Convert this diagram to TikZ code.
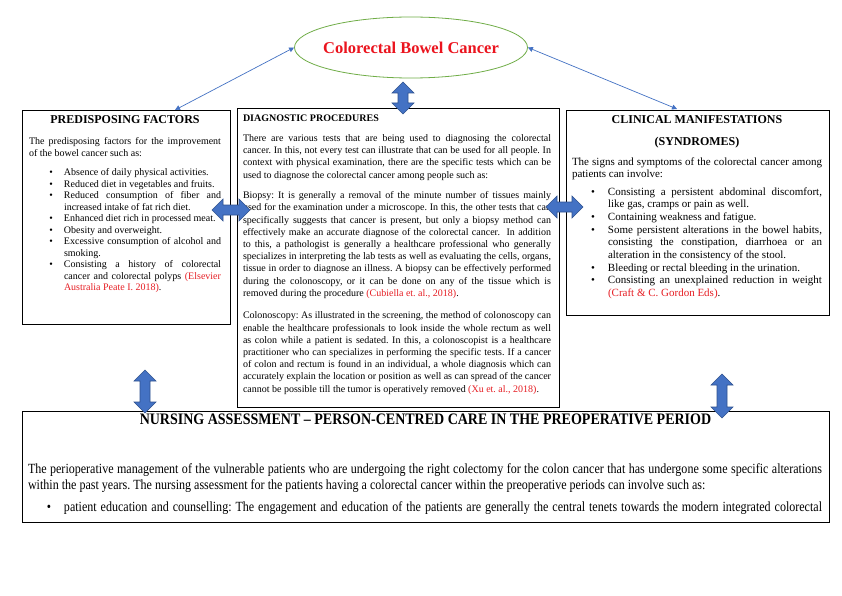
\documentclass[tikz,border=0pt]{standalone}
\usepackage{fontspec}
\setmainfont{Liberation Serif}
\newfontfamily\condfont[FakeStretch=0.86]{Liberation Serif}
\newfontfamily\condtitle[FakeStretch=0.875]{Liberation Serif}
\usetikzlibrary{shapes.geometric,arrows.meta}
\definecolor{citered}{RGB}{230,30,36}
\definecolor{titlered}{RGB}{235,20,30}
\definecolor{ellgreen}{RGB}{112,173,71}
\definecolor{arrblue}{RGB}{68,114,196}
\definecolor{arrborder}{RGB}{47,82,143}
\newcommand\rc[1]{\textcolor{citered}{#1}}
\newlength\bind \newlength\bgap \newlength\colw
\newcommand\nsk{\spaceskip=0pt\relax\xspaceskip=0pt\relax}
\newcommand\jline[1]{\hbox to \colw{\nsk #1}}
\newcommand\lline[1]{\hbox{\nsk #1}}
\newcommand\bjline[1]{\hbox to \colw{\nsk\hskip\bind\relax\llap{\textbullet\hskip\bgap\relax}#1}}
\newcommand\blline[1]{\hbox{\nsk\hskip\bind\relax\llap{\textbullet\hskip\bgap\relax}#1}}
\newcommand\cjline[1]{\hbox to \colw{\nsk\hskip\bind\relax #1}}
\newcommand\clline[1]{\hbox{\nsk\hskip\bind\relax #1}}
\newcommand\vdarrow[3]{%
  \filldraw[blockarr] (#1,#2) -- ++(11,11) -- ++(-6,0) -- (#1+5,#3-11) -- ++(6,0) -- (#1,#3)
   -- ++(-11,-11) -- ++(6,0) -- (#1-5,#2+11) -- ++(-6,0) -- cycle;}
\newcommand\hdarrow[3]{%
  \filldraw[blockarr] (#2,#1) -- ++(11,-11) -- ++(0,6) -- (#3-11,#1-5) -- ++(0,-6) -- (#3,#1)
   -- ++(-11,11) -- ++(0,-6) -- (#2+11,#1+5) -- ++(0,6) -- cycle;}
\tikzset{
  boxframe/.style={draw=black, line width=0.9pt, anchor=north west, inner sep=0pt, outer sep=0pt},
  txt/.style={inner sep=0pt, outer sep=0pt, anchor=base west, align=justify},
  blockarr/.style={fill=arrblue, draw=arrborder, line width=0.6pt, line join=miter},
  thinarr/.style={draw=arrblue, line width=0.7pt, {Triangle[length=5pt,width=5pt]}-{Triangle[length=5pt,width=5pt]}},
}
\begin{document}
\frenchspacing
\begin{tikzpicture}[x=1pt,y=-1pt]
\useasboundingbox (0,0) rectangle (842,596);
\fill[white] (0,0) rectangle (842,596);

% ellipse
\node[draw=ellgreen, line width=0.8pt, ellipse, minimum width=233pt, minimum height=61pt, inner sep=0pt] (ell) at (411,47.5) {};
\node[inner sep=0pt] (elltext) at (ell.center) {\fontsize{16.5}{18}\selectfont\bfseries\color{titlered}Colorectal Bowel Cancer};

% left box texts
\node[anchor=base, inner sep=0pt] (ltitle) at (125,124) {\fontsize{12}{14}\selectfont\bfseries PREDISPOSING FACTORS};
\node[txt, text width=192pt] (ltext) at (29,145) {\fontsize{10}{11.5}\selectfont
\setlength\colw{192pt}\setlength\bind{35pt}\setlength\bgap{11pt}%
\jline{The predisposing factors for the improvement}
\lline{of the bowel cancer such as:}
\vskip7.8pt
\blline{Absence of daily physical activities.}
\blline{Reduced diet in vegetables and fruits.}
\bjline{Reduced consumption of fiber and}
\clline{increased intake of fat rich diet.}
\blline{Enhanced diet rich in processed meat.}
\blline{Obesity and overweight.}
\bjline{Excessive consumption of alcohol and}
\clline{smoking.}
\bjline{Consisting a history of colorectal}
\cjline{cancer and colorectal polyps \rc{(Elsevier}}
\clline{\rc{Australia Peate I. 2018)}.}
};

% center box texts
\node[txt, anchor=base west, inner sep=0pt] (ctitle) at (243,121.5) {\fontsize{10}{12}\selectfont\bfseries DIAGNOSTIC PROCEDURES};
\node[txt, text width=308pt] (ctext) at (243,141.5) {\fontsize{10}{12.2}\selectfont
\setlength\colw{308pt}%
\jline{There are various tests that are being used to diagnosing the colorectal}
\jline{cancer. In this, not every test can illustrate that can be used for all people. In}
\jline{context with physical examination, there are the specific tests which can be}
\lline{used to diagnose the colorectal cancer among people such as:}
\vskip8.4pt
\jline{Biopsy: It is generally a removal of the minute number of tissues mainly}
\jline{used for the examination under a microscope. In this, the other tests that can}
\jline{specifically suggests that cancer is present, but only a biopsy method can}
\jline{effectively make an accurate diagnose of the colorectal cancer.\ \ In addition}
\jline{to this, a pathologist is generally a healthcare professional who generally}
\jline{specializes in interpreting the lab tests as well as evaluating the cells, organs,}
\jline{tissue in order to diagnose an illness. A biopsy can be effectively performed}
\jline{during the colonoscopy, or it can be done on any of the tissue which is}
\lline{removed during the procedure \rc{(Cubiella et. al., 2018)}.}
\vskip10.3pt
\jline{Colonoscopy: As illustrated in the screening, the method of colonoscopy can}
\jline{enable the healthcare professionals to look inside the whole rectum as well}
\jline{as colon while a patient is sedated. In this, a colonoscopist is a healthcare}
\jline{practitioner who can specializes in performing the specific tests. If a cancer}
\jline{of colon and rectum is found in an individual, a whole diagnosis which can}
\jline{accurately explain the location or position as well as can spread of the cancer}
\lline{cannot be possible till the tumor is operatively removed \rc{(Xu et. al., 2018)}.}
};

% right box texts
\node[anchor=base, inner sep=0pt] (rtitle) at (697,124) {\fontsize{12}{14}\selectfont\bfseries CLINICAL MANIFESTATIONS};
\node[anchor=base, inner sep=0pt] (rtitleb) at (697,146) {\fontsize{12}{14}\selectfont\bfseries (SYNDROMES)};
\node[txt, text width=250pt] (rtext) at (572,165) {\fontsize{11}{12.65}\selectfont
\setlength\colw{250pt}\setlength\bind{36pt}\setlength\bgap{13pt}%
\jline{The signs and symptoms of the colorectal cancer among}
\lline{patients can involve:}
\vskip4.9pt
\bjline{Consisting a persistent abdominal discomfort,}
\clline{like gas, cramps or pain as well.}
\blline{Containing weakness and fatigue.}
\bjline{Some persistent alterations in the bowel habits,}
\cjline{consisting the constipation, diarrhoea or an}
\clline{alteration in the consistency of the stool.}
\blline{Bleeding or rectal bleeding in the urination.}
\bjline{Consisting an unexplained reduction in weight}
\clline{\rc{(Craft \& C. Gordon Eds)}.}
};

% bottom box texts
\node[anchor=base, inner sep=0pt] (btitle) at (425.5,424) {\condtitle\fontsize{16}{18}\selectfont\bfseries NURSING ASSESSMENT – PERSON-CENTRED CARE IN THE PREOPERATIVE PERIOD};
\node[txt, text width=794pt] (btext) at (28,473) {\condfont\fontsize{14}{16}\selectfont
\setlength\colw{794pt}\setlength\bind{36pt}\setlength\bgap{13pt}%
\jline{The perioperative management of the vulnerable patients who are undergoing the right colectomy for the colon cancer that has undergone some specific alterations}
\lline{within the past years. The nursing assessment for the patients having a colorectal cancer within the preoperative periods can involve such as:}
\vskip6pt
\bjline{patient education and counselling: The engagement and education of the patients are generally the central tenets towards the modern integrated colorectal}
};

% boxes
\node[boxframe, minimum width=208pt, minimum height=214pt] (lbox) at (22,110) {};
\node[boxframe, minimum width=322pt, minimum height=299pt] (cbox) at (237,108) {};
\node[boxframe, minimum width=263pt, minimum height=205pt] (rbox) at (566,110) {};
\node[boxframe, minimum width=807pt, minimum height=111pt] (bbox) at (22,411) {};

% thin connectors
\coordinate (lend) at (175,110);
\coordinate (rend) at (677,109);
\draw[thinarr] (lend) -- (ell.west);
\draw[thinarr] (rend) -- (ell.east);

% block double arrows
\vdarrow{403}{82}{114}
\hdarrow{210}{212}{250}
\hdarrow{207}{546}{583}
\vdarrow{145}{370}{413}
\vdarrow{722}{374}{418}
\end{tikzpicture}
\end{document}
